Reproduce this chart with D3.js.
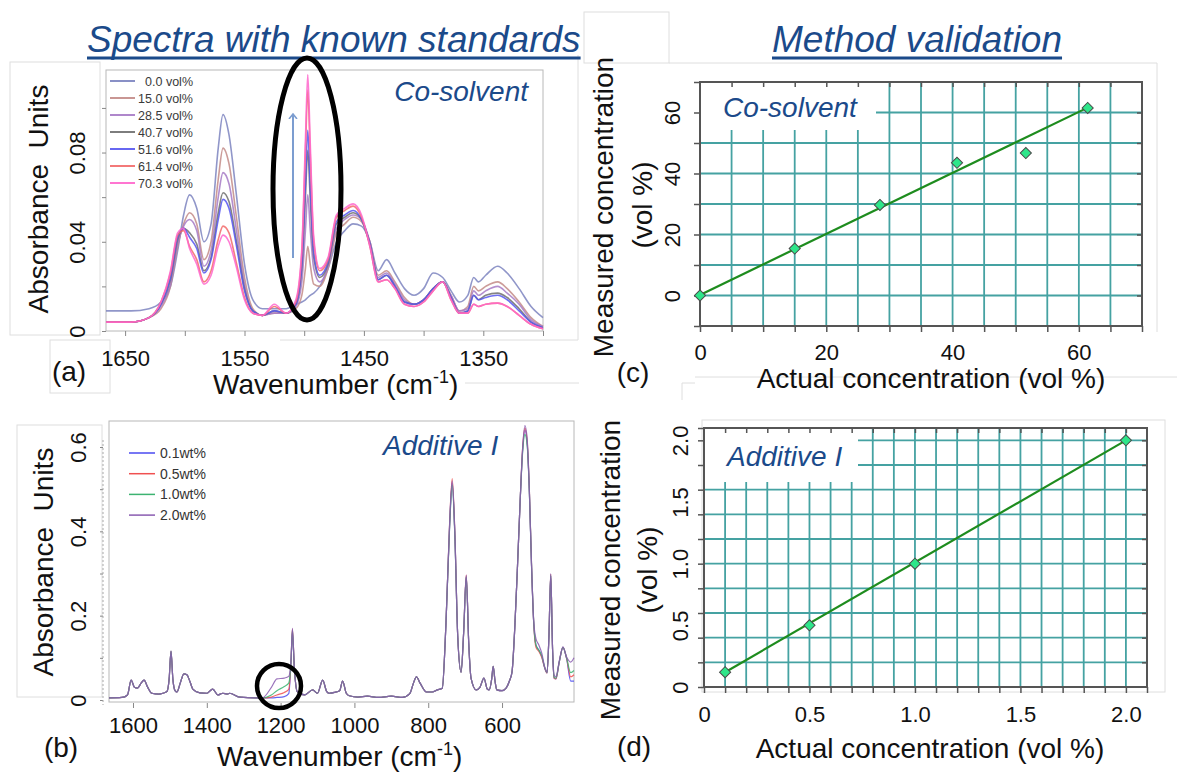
<!DOCTYPE html>
<html>
<head>
<meta charset="utf-8">
<script src="https://cdn.jsdelivr.net/npm/d3@7"></script>
<style>
  body { margin: 0; background: #fff; }
  text { font-family: "Liberation Sans", Arial, Helvetica, sans-serif; }
</style>
</head>
<body>
<script>
// ---------- panel (a): co-solvent spectra ----------
const wnA = [1666,1645,1630,1620,1612,1606,1601,1596,1590,1584,1578,1572,1568,1563,1557,1550,1543,1535,1525,1515,
  1507,1502,1499,1497,1495,1492,1487,1480,1473,1466,1459,1452,1445,1438,1431,1424,1416,1408,1400,1392,
  1384,1377,1370,1363,1358,1354,1348,1338,1330,1320,1310,1300];
const labelsA = ["0.0 vol%", "15.0 vol%", "28.5 vol%", "40.7 vol%", "51.6 vol%", "61.4 vol%", "70.3 vol%"];
const specA_00 = [0.009,0.009,0.010,0.013,0.020,0.036,0.052,0.061,0.055,0.040,0.048,0.082,0.097,0.088,0.062,0.030,0.014,0.010,0.010,0.010,
  0.012,0.013,0.014,0.015,0.016,0.017,0.020,0.028,0.040,0.045,0.048,0.047,0.040,0.027,0.032,0.026,0.019,0.016,0.019,0.026,
  0.024,0.018,0.013,0.016,0.024,0.022,0.025,0.029,0.026,0.019,0.011,0.006];
const specA_15 = [0.004,0.004,0.006,0.010,0.020,0.038,0.048,0.053,0.048,0.032,0.040,0.068,0.082,0.075,0.052,0.024,0.010,0.007,0.008,0.008,
  0.010,0.016,0.028,0.038,0.030,0.021,0.020,0.028,0.044,0.048,0.051,0.049,0.040,0.025,0.027,0.022,0.015,0.012,0.014,0.019,
  0.022,0.016,0.009,0.011,0.020,0.018,0.020,0.022,0.019,0.013,0.006,0.002];
const specA_28 = [0.004,0.004,0.006,0.011,0.021,0.039,0.047,0.050,0.045,0.029,0.036,0.060,0.071,0.066,0.046,0.021,0.009,0.007,0.008,0.008,
  0.011,0.022,0.045,0.061,0.046,0.028,0.022,0.029,0.046,0.050,0.052,0.050,0.040,0.024,0.026,0.021,0.014,0.012,0.014,0.019,
  0.022,0.016,0.009,0.010,0.018,0.016,0.018,0.020,0.017,0.012,0.005,0.002];
const specA_40 = [0.004,0.004,0.006,0.012,0.023,0.041,0.046,0.044,0.039,0.027,0.033,0.053,0.062,0.058,0.041,0.019,0.009,0.007,0.009,0.008,
  0.012,0.028,0.060,0.081,0.060,0.033,0.024,0.030,0.048,0.051,0.053,0.050,0.039,0.023,0.025,0.020,0.013,0.012,0.014,0.019,
  0.022,0.015,0.008,0.009,0.016,0.014,0.016,0.017,0.015,0.010,0.004,0.0015];
const specA_51 = [0.004,0.004,0.006,0.012,0.024,0.042,0.046,0.042,0.037,0.026,0.032,0.050,0.059,0.055,0.039,0.018,0.009,0.007,0.009,0.008,
  0.012,0.030,0.066,0.090,0.066,0.035,0.025,0.031,0.049,0.052,0.054,0.050,0.039,0.023,0.025,0.020,0.013,0.012,0.014,0.019,
  0.022,0.015,0.008,0.009,0.016,0.014,0.015,0.016,0.014,0.009,0.004,0.0015];
const specA_61 = [0.004,0.004,0.006,0.013,0.026,0.043,0.045,0.038,0.032,0.022,0.027,0.041,0.047,0.044,0.031,0.015,0.008,0.007,0.011,0.008,
  0.013,0.035,0.080,0.108,0.080,0.040,0.027,0.032,0.051,0.054,0.056,0.051,0.038,0.022,0.023,0.019,0.012,0.011,0.013,0.018,
  0.022,0.014,0.008,0.008,0.012,0.011,0.012,0.0125,0.011,0.007,0.003,0.001];
const specA_70 = [0.004,0.004,0.006,0.013,0.027,0.044,0.046,0.037,0.030,0.021,0.025,0.038,0.043,0.040,0.029,0.014,0.008,0.007,0.012,0.008,
  0.014,0.037,0.085,0.115,0.085,0.042,0.028,0.033,0.052,0.055,0.057,0.052,0.038,0.022,0.023,0.019,0.012,0.011,0.013,0.018,
  0.022,0.014,0.008,0.008,0.012,0.011,0.012,0.0125,0.011,0.007,0.003,0.001];
const colorsA = ["#7c84c0", "#c38b87", "#a67ac6", "#6f6f6f", "#5656f0", "#f26a6a", "#ff66cc"];

// ---------- panel (b): additive spectra ----------
const wnB = [1665,1630,1615,1605,1596,1588,1578,1570,1560,1549,1530,1519,1508,1502,1497,1492,1486,1481,1472,1462,
  1454,1445,1438,1419,1400,1384,1370,1357,1345,1338,1311,1250,1225,1210,1190,1178,1172,1168,1163,1155,
  1135,1113,1100,1086,1075,1068,1054,1040,1032,1022,1014,990,965,935,900,870,850,840,832,822,
  805,789,775,762,752,742,735,728,720,711,704,697,690,684,670,660,649,640,635,628,
  624,619,614,600,589,580,573,565,558,551,544,538,532,526,520,514,508,500,492,485,
  478,473,468,463,459,454,445,435,425,414,405];
const labelsB = ["0.1wt%", "0.5wt%", "1.0wt%", "2.0wt%"];
const specB_01 = [0.005,0.006,0.012,0.047,0.030,0.028,0.040,0.047,0.030,0.016,0.014,0.016,0.020,0.050,0.116,0.050,0.022,0.019,0.040,0.062,
  0.060,0.042,0.026,0.017,0.016,0.026,0.012,0.016,0.014,0.016,0.007,0.005,0.005,0.006,0.008,0.015,0.085,0.160,0.078,0.020,
  0.012,0.024,0.016,0.047,0.020,0.016,0.018,0.022,0.045,0.016,0.010,0.007,0.009,0.006,0.009,0.006,0.015,0.040,0.055,0.040,
  0.019,0.019,0.024,0.028,0.180,0.415,0.515,0.395,0.150,0.066,0.160,0.292,0.130,0.052,0.024,0.030,0.052,0.026,0.024,0.050,
  0.080,0.045,0.024,0.022,0.028,0.045,0.066,0.180,0.320,0.470,0.595,0.640,0.610,0.495,0.315,0.180,0.130,0.118,0.102,0.078,
  0.064,0.148,0.295,0.118,0.052,0.050,0.090,0.124,0.098,0.045,0.045];
const specB_05 = [0.005,0.006,0.012,0.047,0.030,0.028,0.040,0.047,0.030,0.016,0.014,0.016,0.020,0.050,0.116,0.050,0.022,0.019,0.040,0.062,
  0.060,0.042,0.026,0.017,0.016,0.026,0.012,0.016,0.014,0.016,0.007,0.005,0.007,0.012,0.018,0.025,0.088,0.168,0.080,0.020,
  0.012,0.024,0.016,0.047,0.020,0.016,0.018,0.022,0.045,0.016,0.010,0.007,0.009,0.006,0.009,0.006,0.015,0.040,0.055,0.040,
  0.019,0.019,0.024,0.028,0.180,0.420,0.525,0.400,0.150,0.066,0.160,0.296,0.130,0.052,0.024,0.030,0.052,0.026,0.024,0.050,
  0.080,0.045,0.024,0.022,0.028,0.045,0.066,0.180,0.320,0.470,0.600,0.645,0.615,0.500,0.318,0.180,0.125,0.115,0.100,0.078,
  0.064,0.150,0.298,0.118,0.052,0.050,0.090,0.125,0.099,0.055,0.060];
const specB_10 = [0.005,0.006,0.012,0.047,0.030,0.028,0.040,0.047,0.030,0.016,0.014,0.016,0.020,0.050,0.116,0.050,0.022,0.019,0.040,0.062,
  0.060,0.042,0.026,0.017,0.016,0.026,0.012,0.016,0.014,0.016,0.007,0.005,0.012,0.022,0.032,0.040,0.088,0.165,0.080,0.020,
  0.012,0.024,0.016,0.047,0.020,0.016,0.018,0.022,0.045,0.016,0.010,0.007,0.009,0.006,0.009,0.006,0.015,0.040,0.055,0.040,
  0.019,0.019,0.024,0.028,0.180,0.412,0.510,0.392,0.150,0.066,0.160,0.292,0.130,0.052,0.024,0.030,0.052,0.026,0.024,0.050,
  0.080,0.045,0.024,0.022,0.028,0.045,0.066,0.180,0.320,0.470,0.590,0.630,0.605,0.495,0.318,0.182,0.130,0.118,0.104,0.079,
  0.065,0.150,0.296,0.119,0.055,0.052,0.090,0.125,0.100,0.065,0.070];
const specB_20 = [0.005,0.006,0.012,0.047,0.030,0.028,0.040,0.047,0.030,0.016,0.014,0.016,0.020,0.050,0.116,0.050,0.022,0.019,0.040,0.062,
  0.060,0.042,0.026,0.017,0.016,0.026,0.012,0.016,0.014,0.016,0.007,0.005,0.030,0.050,0.052,0.056,0.090,0.170,0.080,0.020,
  0.012,0.024,0.016,0.047,0.020,0.016,0.018,0.022,0.045,0.016,0.010,0.007,0.009,0.006,0.009,0.006,0.015,0.040,0.055,0.040,
  0.019,0.019,0.024,0.028,0.180,0.420,0.520,0.400,0.150,0.066,0.160,0.296,0.130,0.052,0.024,0.030,0.052,0.026,0.024,0.050,
  0.080,0.045,0.024,0.022,0.028,0.045,0.066,0.180,0.320,0.470,0.600,0.651,0.620,0.500,0.320,0.185,0.145,0.130,0.110,0.080,
  0.066,0.150,0.300,0.120,0.060,0.055,0.092,0.126,0.102,0.090,0.100];
const colorsB = ["#4a4af0", "#f05050", "#3cb371", "#8a5cb0"];

// ---------- panel (c): co-solvent validation ----------
const actualC = [0, 15.0, 28.5, 40.7, 51.6, 61.4];
const measuredC = [0, 15.4, 29.7, 43.5, 46.7, 61.5];
const fitC = [[0, 0.2], [61.4, 61.6]];

// ---------- panel (d): additive validation ----------
const actualD = [0.1, 0.5, 1.0, 2.0];
const measuredD = [0.12, 0.5, 1.0, 2.0];
const fitD = [[0.1, 0.12], [2.0, 2.0]];

// ---------- drawing ----------
const W = 1177, H = 772;
const titleBlue = "#1b4a8a";
const svg = d3.select("body").append("svg").attr("width", W).attr("height", H);
svg.append("rect").attr("width", W).attr("height", H).attr("fill", "#fff");

// faint text-box outlines left over from the slide
const ghost = svg.append("g").attr("fill", "none").attr("stroke", "#dedede").attr("stroke-width", 1);
[[10, 62, 90, 273], [17, 425, 85, 272], [584, 12, 85, 51], [702, 420, 463, 272], [50, 340, 60, 53]].forEach(r =>
  ghost.append("rect").attr("x", r[0]).attr("y", r[1]).attr("width", r[2]).attr("height", r[3]));
[[578, 55, 578, 340], [280, 340, 578, 340], [669, 63, 1157, 63], [1157, 63, 1157, 332], [465, 383, 579, 383],
 [695, 377, 1177, 377], [682, 383, 695, 383], [682, 383, 682, 400]].forEach(l =>
  ghost.append("line").attr("x1", l[0]).attr("y1", l[1]).attr("x2", l[2]).attr("y2", l[3]));

function rotText(g, cx, cy, str, size) {
  return g.append("text")
    .attr("transform", `translate(${cx + size * 0.36},${cy}) rotate(-90)`)
    .attr("text-anchor", "middle")
    .attr("font-size", size)
    .attr("fill", "#111")
    .style("white-space", "pre")
    .text(str);
}

function wavenumberTitle(g, x, y) {
  const t = g.append("text").attr("x", x).attr("y", y).attr("font-size", 28).attr("fill", "#111");
  t.append("tspan").text("Wavenumber (cm");
  t.append("tspan").attr("dy", -11).attr("font-size", 18).text("-1");
  t.append("tspan").attr("dy", 11).text(")");
}

function styleAxis(sel, size) {
  sel.select(".domain").remove();
  sel.selectAll("line").attr("stroke", "#888");
  sel.selectAll("text").attr("font-size", size).attr("fill", "#111").attr("font-family", null);
}

function rotateLabels(sel, shift) {
  sel.selectAll("text")
    .attr("x", 0).attr("dy", 0)
    .attr("text-anchor", "middle")
    .attr("transform", `translate(${shift},0) rotate(-90)`);
}

// titles
[["Spectra with known standards", 87], ["Method validation", 772]].forEach(([s, x]) => {
  const t = svg.append("text").attr("x", x).attr("y", 52).attr("font-size", 37)
    .attr("font-style", "italic").attr("fill", titleBlue).text(s);
  const len = t.node().getComputedTextLength();
  svg.append("line").attr("x1", x).attr("x2", x + len).attr("y1", 58).attr("y2", 58)
    .attr("stroke", titleBlue).attr("stroke-width", 3);
});

// ===== panel (a) =====
{
  const x = d3.scaleLinear().domain([1666, 1300]).range([106, 543]);
  const y = d3.scaleLinear().domain([0, 0.117]).range([331, 70]);
  const g = svg.append("g");
  g.append("rect").attr("x", 106).attr("y", 70).attr("width", 437).attr("height", 261)
    .attr("fill", "#fff").attr("stroke", "#b8b8b8");

  const series = [specA_00, specA_15, specA_28, specA_40, specA_51, specA_61, specA_70];
  const line = d3.line().x((d, i) => x(wnA[i])).y(d => y(d)).curve(d3.curveMonotoneX);
  g.selectAll("path.spec").data(series).join("path").attr("class", "spec")
    .attr("d", line).attr("fill", "none")
    .attr("stroke", (d, i) => colorsA[i]).attr("stroke-width", 1.6).attr("stroke-opacity", 0.85);

  const ax = g.append("g").attr("transform", "translate(0,331)")
    .call(d3.axisBottom(x).tickValues(d3.range(1650, 1299, -50)).tickSize(5).tickPadding(14)
      .tickFormat(d => d % 100 === 50 ? d : ""));
  styleAxis(ax, 22);

  const ay = g.append("g").attr("transform", "translate(106,0)")
    .call(d3.axisLeft(y).tickValues([0, 0.02, 0.04, 0.06, 0.08, 0.10]).tickSize(4)
      .tickFormat(d => d === 0 ? "0" : (Math.abs(d - 0.04) < 1e-9 || Math.abs(d - 0.08) < 1e-9) ? d3.format(".2f")(d) : ""));
  styleAxis(ay, 22);
  rotateLabels(ay, -21);

  // legend
  const lg = g.append("g");
  labelsA.forEach((s, i) => {
    const yy = 81 + i * 17;
    lg.append("line").attr("x1", 110).attr("x2", 135).attr("y1", yy).attr("y2", yy)
      .attr("stroke", colorsA[i]).attr("stroke-width", 1.8);
    lg.append("text").attr("x", 193).attr("y", yy + 4.5).attr("text-anchor", "end")
      .attr("font-size", 12.5).attr("fill", "#3a3a3a").text(s);
  });

  g.append("text").attr("x", 528).attr("y", 101).attr("text-anchor", "end").attr("font-size", 28)
    .attr("font-style", "italic").attr("fill", titleBlue).text("Co-solvent");

  // arrow + highlight ellipse
  const defs = svg.append("defs");
  defs.append("marker").attr("id", "head").attr("viewBox", "0 0 10 10").attr("refX", 5).attr("refY", 5)
    .attr("markerWidth", 5).attr("markerHeight", 5).attr("orient", "auto")
    .append("path").attr("d", "M0,1 L5,5 L0,9").attr("fill", "none").attr("stroke", "#7c9dd0").attr("stroke-width", 1.6);
  g.append("line").attr("x1", 293).attr("x2", 293).attr("y1", 258).attr("y2", 114)
    .attr("stroke", "#7c9dd0").attr("stroke-width", 2).attr("marker-end", "url(#head)");
  g.append("ellipse").attr("cx", 307).attr("cy", 189).attr("rx", 34).attr("ry", 131)
    .attr("fill", "none").attr("stroke", "#000").attr("stroke-width", 5);

  rotText(svg, 38, 199, "Absorbance  Units", 28);
  wavenumberTitle(svg, 213, 394);
  svg.append("text").attr("x", 69).attr("y", 381).attr("text-anchor", "middle").attr("font-size", 28).attr("fill", "#111").text("(a)");
}

// ===== panel (b) =====
{
  const x = d3.scaleLinear().domain([1665, 405]).range([109, 574]);
  const y = d3.scaleLinear().domain([0, 0.6]).range([700, 447]);
  const g = svg.append("g");
  g.append("rect").attr("x", 109).attr("y", 421).attr("width", 465).attr("height", 281)
    .attr("fill", "#fff").attr("stroke", "#b8b8b8");

  const series = [specB_01, specB_05, specB_10, specB_20];
  const line = d3.line().x((d, i) => x(wnB[i])).y(d => y(d)).curve(d3.curveMonotoneX);
  g.selectAll("path.spec").data(series).join("path").attr("class", "spec")
    .attr("d", line).attr("fill", "none")
    .attr("stroke", (d, i) => colorsB[i]).attr("stroke-width", 1.2).attr("stroke-opacity", 0.85);

  const ax = g.append("g").attr("transform", "translate(0,703)")
    .call(d3.axisBottom(x).tickValues(d3.range(1600, 599, -200)).tickSize(5).tickPadding(9)
      .tickFormat(d3.format("d")));
  styleAxis(ax, 22);

  const ay = g.append("g").attr("transform", "translate(103,0)")
    .call(d3.axisLeft(y).tickValues([0, 0.1, 0.2, 0.3, 0.4, 0.5, 0.6]).tickSize(3)
      .tickFormat(d => d === 0 ? "0" : (Math.round(d * 10) % 2 === 0 ? d3.format(".1f")(d) : "")));
  styleAxis(ay, 22);
  rotateLabels(ay, -17);
  g.append("line").attr("x1", 103).attr("x2", 103).attr("y1", 440).attr("y2", 705)
    .attr("stroke", "#aaa").attr("stroke-dasharray", "2,2");

  const lg = g.append("g");
  labelsB.forEach((s, i) => {
    const yy = 453 + i * 20.7;
    lg.append("line").attr("x1", 129).attr("x2", 155).attr("y1", yy).attr("y2", yy)
      .attr("stroke", colorsB[i]).attr("stroke-width", 1.5);
    lg.append("text").attr("x", 160).attr("y", yy + 5).attr("font-size", 14).attr("fill", "#333").text(s);
  });

  g.append("text").attr("x", 383).attr("y", 455).attr("font-size", 28)
    .attr("font-style", "italic").attr("fill", titleBlue).text("Additive I");

  g.append("circle").attr("cx", 279).attr("cy", 686).attr("r", 22)
    .attr("fill", "none").attr("stroke", "#000").attr("stroke-width", 4.5);

  rotText(svg, 43, 562, "Absorbance  Units", 28);
  wavenumberTitle(svg, 217, 766);
  svg.append("text").attr("x", 61).attr("y", 757).attr("text-anchor", "middle").attr("font-size", 28).attr("fill", "#111").text("(b)");
}

// ===== validation panels =====
function validation(o) {
  const { x, y, xGrid, yGrid, xLab, yLab, fmt, actual, measured, fit, label, labelBox } = o;
  const g = svg.append("g");
  const [x0, x1] = x.range(), [y0, y1] = y.range();
  g.append("rect").attr("x", x0).attr("y", y1).attr("width", x1 - x0).attr("height", y0 - y1).attr("fill", "#fff");

  const grid = g.append("g").attr("stroke", "#45a2a2").attr("stroke-width", 1.8);
  grid.selectAll("line.v").data(xGrid).join("line").attr("class", "v")
    .attr("x1", d => x(d)).attr("x2", d => x(d)).attr("y1", y0).attr("y2", y1);
  grid.selectAll("line.h").data(yGrid).join("line").attr("class", "h")
    .attr("x1", x0).attr("x2", x1).attr("y1", d => y(d)).attr("y2", d => y(d));

  // white label box hides the grid behind the caption
  g.append("rect").attr("x", labelBox[0]).attr("y", labelBox[1]).attr("width", labelBox[2]).attr("height", labelBox[3]).attr("fill", "#fff");
  g.append("text").attr("x", labelBox[0] + 22).attr("y", labelBox[1] + labelBox[3] / 2 + 10).attr("font-size", 28)
    .attr("font-style", "italic").attr("fill", titleBlue).text(label);

  g.append("rect").attr("x", x0).attr("y", y1).attr("width", x1 - x0).attr("height", y0 - y1)
    .attr("fill", "none").attr("stroke", "#555").attr("stroke-width", 2);

  const tickStyle = s => { s.select(".domain").remove(); s.selectAll("line").attr("stroke", "#555").attr("stroke-width", 1.5); };
  g.append("g").attr("transform", `translate(0,${y0})`).call(d3.axisBottom(x).tickValues(xGrid.concat(x.domain())).tickSize(6).tickFormat("")).call(tickStyle);
  g.append("g").attr("transform", `translate(0,${y1})`).call(d3.axisBottom(x).tickValues(xGrid).tickSize(5).tickFormat("")).call(tickStyle);
  g.append("g").attr("transform", `translate(${x0},0)`).call(d3.axisLeft(y).tickValues(yGrid.concat(y.domain())).tickSize(6).tickFormat("")).call(tickStyle);
  g.append("g").attr("transform", `translate(${x1},0)`).call(d3.axisLeft(y).tickValues(yGrid).tickSize(5).tickFormat("")).call(tickStyle);

  const lx = g.append("g").attr("transform", `translate(0,${y0})`)
    .call(d3.axisBottom(x).tickValues(xLab).tickSize(0).tickPadding(o.xPad).tickFormat(fmt));
  styleAxis(lx, 22);
  const ly = g.append("g").attr("transform", `translate(${x0},0)`)
    .call(d3.axisLeft(y).tickValues(yLab).tickSize(0).tickFormat(fmt));
  styleAxis(ly, 22);
  rotateLabels(ly, o.yShift);

  g.append("path").datum(fit).attr("d", d3.line().x(d => x(d[0])).y(d => y(d[1])))
    .attr("stroke", "#1e8c1e").attr("stroke-width", 2.2).attr("fill", "none");
  g.selectAll("path.pt").data(actual).join("path").attr("class", "pt")
    .attr("transform", (d, i) => `translate(${x(d)},${y(measured[i])}) rotate(45)`)
    .attr("d", d3.symbol(d3.symbolSquare, 62)())
    .attr("fill", "#2ee68a").attr("stroke", "#4a4a4a").attr("stroke-width", 1);
  return g;
}

validation({
  x: d3.scaleLinear().domain([0, 70]).range([700, 1142]),
  y: d3.scaleLinear().domain([-10, 70]).range([326, 82]),
  xGrid: d3.range(5, 70, 5), yGrid: d3.range(0, 70, 10),
  xLab: [0, 20, 40, 60], yLab: [0, 20, 40, 60], fmt: d3.format("d"),
  actual: actualC, measured: measuredC, fit: fitC,
  label: "Co-solvent", labelBox: [701, 83, 175, 47], xPad: 18, yShift: -20
});
rotText(svg, 603, 207, "Measured concentration", 28);
rotText(svg, 642, 205, "(vol %)", 28);
svg.append("text").attr("x", 931).attr("y", 388).attr("text-anchor", "middle").attr("font-size", 28).attr("fill", "#111").text("Actual concentration (vol %)");
svg.append("text").attr("x", 633).attr("y", 382).attr("text-anchor", "middle").attr("font-size", 28).attr("fill", "#111").text("(c)");

validation({
  x: d3.scaleLinear().domain([0, 2.1]).range([704, 1147]),
  y: d3.scaleLinear().domain([0, 2.1]).range([687, 428]),
  xGrid: d3.range(1, 21).map(k => k / 10), yGrid: d3.range(1, 11).map(k => k / 5),
  xLab: [0, 0.5, 1.0, 1.5, 2.0], yLab: [0, 0.5, 1.0, 1.5, 2.0], fmt: d => d === 0 ? "0" : d3.format(".1f")(d),
  actual: actualD, measured: measuredD, fit: fitD,
  label: "Additive I", labelBox: [705, 429, 153, 53], xPad: 19, yShift: -16
});
rotText(svg, 610, 570, "Measured concentration", 28);
rotText(svg, 647, 570, "(vol %)", 28);
svg.append("text").attr("x", 930).attr("y", 758).attr("text-anchor", "middle").attr("font-size", 28).attr("fill", "#111").text("Actual concentration (vol %)");
svg.append("text").attr("x", 634).attr("y", 756).attr("text-anchor", "middle").attr("font-size", 28).attr("fill", "#111").text("(d)");
</script>
</body>
</html>
